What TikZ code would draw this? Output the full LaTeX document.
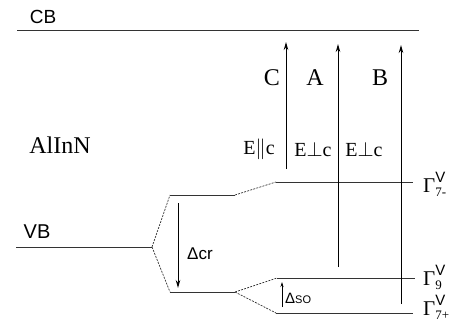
\documentclass[tikz,border=0pt]{standalone}
\usepackage{fontspec}
\setmainfont{Liberation Serif}
\setsansfont{Liberation Sans}
\usetikzlibrary{arrows.meta}
\begin{document}
\begin{tikzpicture}[x=1pt,y=-1pt,
  lvl/.style={line width=1pt, draw=black!80},
  dsh/.style={line width=0.7pt, dash pattern=on 2pt off 1.2pt, draw=black!80},
  tr/.style={line width=1pt, draw=black, -{Stealth[length=8pt,width=4.5pt]}},
  small/.style={line width=0.7pt, draw=black, -{Stealth[length=5pt,width=3pt]}},
  sanslab/.style={inner sep=0pt, font=\sffamily\fontsize{19}{19}\selectfont},
  serlab/.style={inner sep=0pt, font=\fontsize{20}{20}\selectfont},
  biglab/.style={inner sep=0pt, font=\fontsize{24}{24}\selectfont},
  gam/.style={inner sep=0pt, anchor=west, font=\fontsize{21}{21}\selectfont}]
\useasboundingbox (0,0) rectangle (463,321);
% levels
\coordinate (cbL) at (17,31);  \coordinate (cbR) at (419,31);
\coordinate (vbL) at (16,247); \coordinate (vbR) at (152,247);
\coordinate (muL) at (170,195); \coordinate (muR) at (235,195);
\coordinate (mlL) at (170,292); \coordinate (mlR) at (235,292);
\coordinate (g7mL) at (276,182); \coordinate (g7mR) at (413,182);
\coordinate (g9L) at (277,278); \coordinate (g9R) at (415,278);
\coordinate (g7pL) at (276,313); \coordinate (g7pR) at (413,313);
\draw[lvl] (cbL) -- (cbR);
\draw[lvl] (vbL) -- (vbR);
\draw[lvl] (muL) -- (muR);
\draw[lvl] (mlL) -- (mlR);
\draw[lvl] (g7mL) -- (g7mR);
\draw[lvl] (g9L) -- (g9R);
\draw[lvl] (g7pL) -- (g7pR);
\draw[dsh] (vbR) -- (muL);
\draw[dsh] (vbR) -- (mlL);
\draw[dsh] (muR) -- (g7mL);
\draw[dsh] (mlR) -- (g9L);
\draw[dsh] (mlR) -- (g7pL);
% transitions
\coordinate (cS) at (286,169); \coordinate (cE) at (286,42);
\coordinate (aS) at (338,267); \coordinate (aE) at (338,44);
\coordinate (bS) at (401,304); \coordinate (bE) at (401,45);
\draw[tr] (cS) -- (cE);
\draw[tr] (aS) -- (aE);
\draw[tr] (bS) -- (bE);
\coordinate (crS) at (178,203); \coordinate (crE) at (178,288);
\draw[tr] (crS) -- (crE);
\coordinate (soS) at (282,307); \coordinate (soE) at (282,282);
\draw[small] (soS) -- (soE);
% labels
\node[sanslab] (cb) at (43,16.5) {CB};
\node[sanslab, font=\sffamily\fontsize{20}{20}\selectfont] (vb) at (37,232) {VB};
\node[serlab, font=\fontsize{24}{24}\selectfont] (alinn) at (60,145) {AlInN};
\node[biglab] (lc) at (272,78) {C};
\node[biglab] (la) at (315,78) {A};
\node[biglab] (lb) at (380,78) {B};
\node[serlab] (pc) at (259,149) {E$\|$c};
\node[serlab] (pa) at (313,149) {E$\perp$c};
\node[serlab] (pb) at (364,149) {E$\perp$c};
\node[sanslab, font=\sffamily\fontsize{17}{17}\selectfont, anchor=west] (dcr) at (187,254) {Δcr};
\node[sanslab, font=\sffamily\fontsize{15}{15}\selectfont, anchor=west] (dso) at (285,298) {Δ{\fontsize{11}{11}\selectfont SO}};
\newcommand{\gl}[1]{\mbox{Γ\makebox[0pt][l]{\raisebox{10.5pt}{\sffamily\fontsize{15}{15}\selectfont V}}\raisebox{-3.5pt}{\fontsize{13}{13}\selectfont #1}}}
\node[gam] (g7m) at (423,184) {\gl{7-}};
\node[gam] (g9) at (423,277) {\gl{9}};
\node[gam] (g7p) at (423,307) {\gl{7+}};
\end{tikzpicture}
\end{document}
